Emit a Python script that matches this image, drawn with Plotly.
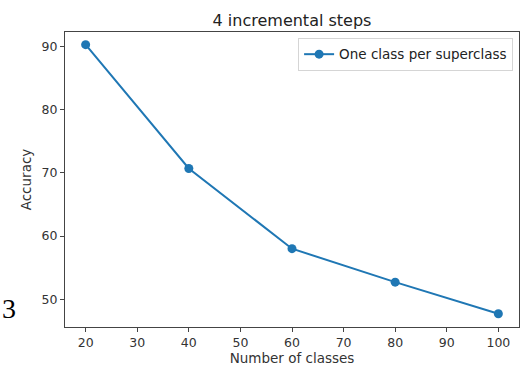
import plotly.graph_objects as go

# Accuracy after each incremental step
num_classes = [20, 40, 60, 80, 100]
accuracy = [90.3, 70.7, 58.0, 52.7, 47.7]
series_name = "One class per superclass"
x_ticks = [20, 30, 40, 50, 60, 70, 80, 90, 100]
y_ticks = [50, 60, 70, 80, 90]

FONT = "DejaVu Sans"
BLUE = "#1f77b4"
TEXT = "#333333"

fig = go.Figure()
fig.add_trace(go.Scatter(
    x=num_classes, y=accuracy, name=series_name,
    mode="lines+markers",
    line=dict(color=BLUE, width=2),
    marker=dict(color=BLUE, size=9),
    showlegend=True,
))

axis_common = dict(
    showgrid=False, zeroline=False,
    showline=True, linecolor="#444444", linewidth=1, mirror=True,
    ticks="outside", ticklen=4, tickcolor="#444444", tickwidth=1,
    tickfont=dict(family=FONT, size=12.5, color=TEXT),
)

fig.update_layout(
    width=532, height=374,
    margin=dict(l=65, r=12, t=32, b=45),
    paper_bgcolor="white", plot_bgcolor="white",
    title=dict(text="4 incremental steps", x=0.5, xref="paper", xanchor="center",
               y=1, yref="paper", yanchor="bottom", pad=dict(b=6),
               font=dict(family=FONT, size=16, color="#222222")),
    xaxis=dict(axis_common, range=[16, 104], tickvals=x_ticks,
               title=dict(text="Number of classes", standoff=3,
                          font=dict(family=FONT, size=13.5, color=TEXT))),
    yaxis=dict(axis_common, range=[45.6, 92.3], tickvals=y_ticks,
               title=dict(text="Accuracy", standoff=6,
                          font=dict(family=FONT, size=13.5, color=TEXT))),
    legend=dict(x=0.987, y=0.98, xanchor="right", yanchor="top",
                bgcolor="white", bordercolor="#d5d5d5", borderwidth=1,
                itemwidth=30,
                font=dict(family=FONT, size=13.5, color="#222222")),
    annotations=[dict(text="3", xref="paper", yref="paper", x=-0.143, y=0.064,
                      xanchor="left", yanchor="middle", showarrow=False,
                      font=dict(family="Liberation Serif", size=28, color="black"))],
)

fig.write_html("out.html")
